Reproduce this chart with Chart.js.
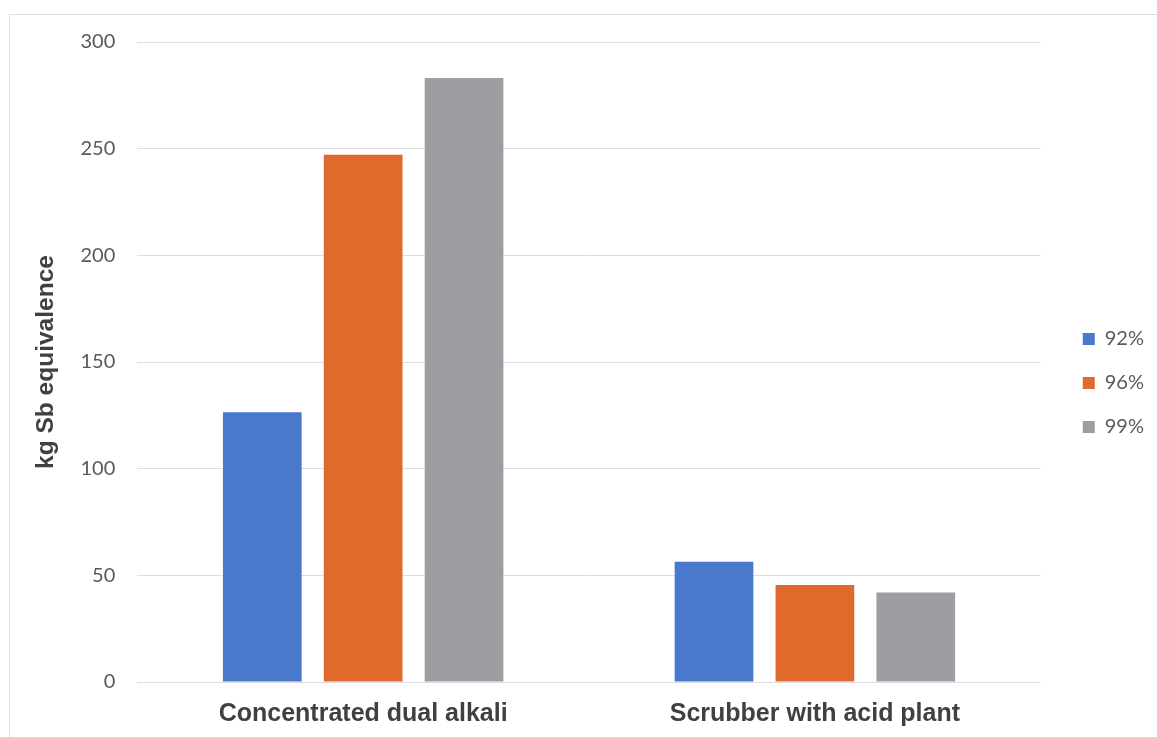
<!DOCTYPE html>
<html>
<head>
<meta charset="utf-8">
<script src="https://cdn.jsdelivr.net/npm/chart.js@4.4.1/dist/chart.umd.min.js"></script>
<style>
    html, body { margin: 0; padding: 0; background: #ffffff; }
    #wrap { position: relative; width: 1157px; height: 737px; overflow: hidden; }
    #frame {
        position: absolute; left: 9px; top: 14px; width: 1200px; height: 800px;
        border: 1px solid #dcdde3; box-sizing: border-box;
    }
    #chart { position: absolute; left: 0; top: 0; }
</style>
</head>
<body>
<div id="wrap">
    <div id="frame"></div>
    <canvas id="chart" width="1157" height="737"></canvas>
</div>
<script>
// Abiotic depletion by technology and sulphur recovery
const categories = ['Concentrated dual alkali', 'Scrubber with acid plant'];
const seriesNames = ['92%', '96%', '99%'];
const values92 = [126.5, 56.4];
const values96 = [247.2, 45.5];
const values99 = [283.1, 41.9];
const yTicks = [0, 50, 100, 150, 200, 250, 300];

const seriesColors = ['#4879cc', '#e0692c', '#9c9ea2'];

// Nudge the legend away from the plot area and up a little
const legendShift = {
    id: 'legendShift',
    afterLayout: function(chart) {
        const lg = chart.legend;
        if (lg) {
            lg.left += 18;
            lg.right += 18;
            lg.top -= 11;
            lg.bottom -= 11;
        }
    }
};

document.addEventListener('DOMContentLoaded', function() {
    const ctx = document.getElementById('chart');

    const datasets = [values92, values96, values99].map((vals, i) => ({
        label: seriesNames[i],
        data: vals,
        backgroundColor: seriesColors[i],
        borderWidth: 0,
        categoryPercentage: 0.67,
        barPercentage: 0.78
    }));

    new Chart(ctx, {
        type: 'bar',
        data: {
            labels: categories,
            datasets: datasets
        },
        plugins: [legendShift],
        options: {
            responsive: false,
            animation: false,
            layout: {
                padding: { left: 34, top: 42, right: 21, bottom: -9 }
            },
            plugins: {
                tooltip: { enabled: false },
                legend: {
                    position: 'right',
                    align: 'center',
                    labels: {
                        boxWidth: 12,
                        boxHeight: 12,
                        padding: 24,
                        color: '#595959',
                        font: { family: 'Lato', size: 20 }
                    }
                }
            },
            scales: {
                x: {
                    grid: { display: false, drawTicks: false },
                    border: { display: false },
                    ticks: {
                        color: '#404040',
                        padding: 17,
                        font: { family: 'Liberation Sans', size: 25, weight: 'bold' }
                    }
                },
                y: {
                    min: 0,
                    max: 300,
                    afterBuildTicks: function(axis) {
                        axis.ticks = yTicks.map(v => ({ value: v }));
                    },
                    grid: {
                        color: '#dcdde3',
                        lineWidth: 1,
                        drawTicks: false
                    },
                    border: { display: false },
                    ticks: {
                        color: '#595959',
                        padding: 22,
                        font: { family: 'Lato', size: 20 }
                    },
                    title: {
                        display: true,
                        text: 'kg Sb equivalence',
                        color: '#404040',
                        padding: 0,
                        font: { family: 'Liberation Sans', size: 24.5, weight: 'bold', lineHeight: 1 }
                    }
                }
            }
        }
    });
});
</script>
</body>
</html>
